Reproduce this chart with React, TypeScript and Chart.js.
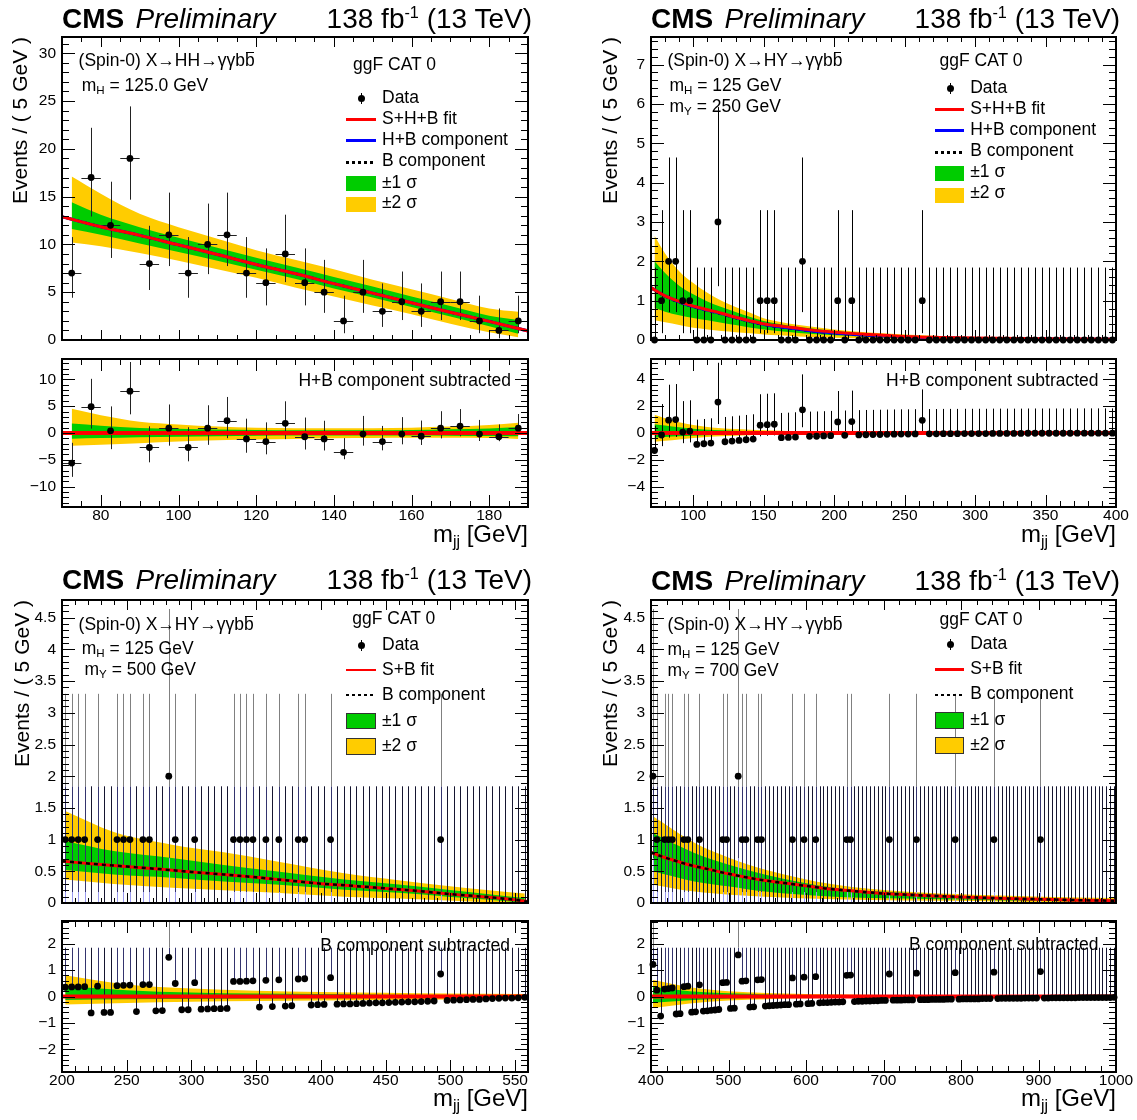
import React, { useEffect, useRef } from "react";
import { Chart, registerables } from "chart.js";

Chart.register(...registerables);

const FONT = '"Liberation Sans", Arial, Helvetica, sans-serif';
const GREEN = "#00cc00";
const YELLOW = "#ffcc00";
const RED = "#ff0000";
const BLUE = "#0000ff";
const NAVY = "#34346e";
const DARK = "#151530";
const GRAY = "#808080";
const LBLUE = "#9a9af0";

// Garwood 68% Poisson intervals for n = 0..19
const POIS_LO = [0, 0.173, 0.708, 1.367, 2.086, 2.84, 3.62, 4.419, 5.232, 6.057, 6.891, 7.734, 8.585, 9.441, 10.3, 11.17, 12.04, 12.92, 13.8, 14.68];
const POIS_HI = [1.841, 3.3, 4.638, 5.918, 7.163, 8.382, 9.584, 10.77, 11.95, 13.11, 14.27, 15.42, 16.56, 17.7, 18.83, 19.96, 21.08, 22.2, 23.32, 24.44];

// ================= Top-left: X->HH =================
const tlBins = [72.5, 77.5, 82.5, 87.5, 92.5, 97.5, 102.5, 107.5, 112.5, 117.5, 122.5, 127.5, 132.5, 137.5, 142.5, 147.5, 152.5, 157.5, 162.5, 167.5, 172.5, 177.5, 182.5, 187.5];
const tlCounts = [7, 17, 12, 19, 8, 11, 7, 10, 11, 7, 6, 9, 6, 5, 2, 5, 3, 4, 3, 4, 4, 2, 1, 2];
const tlResid = [-5.6, 4.9, 0.4, 7.8, -2.7, 0.9, -2.7, 0.9, 2.3, -1.1, -1.6, 1.8, -0.7, -1.1, -3.6, -0.2, -1.6, -0.2, -0.6, 0.9, 1.3, -0.2, -0.7, 0.9];
const tlFitX = [70, 80, 90, 100, 110, 120, 130, 140, 150, 160, 170, 180, 190];
const tlFitY = [12.9, 11.85, 10.95, 9.95, 8.95, 7.9, 6.95, 5.9, 4.9, 3.9, 2.9, 1.95, 0.95];
const tlHBFitY = [12.9, 11.85, 10.95, 9.95, 8.95, 7.9, 6.95, 5.9, 4.9, 3.9, 2.9, 1.95, 0.95];
const tlBFitY = [12.9, 11.85, 10.95, 9.95, 8.95, 7.9, 6.95, 5.9, 4.9, 3.9, 2.9, 1.95, 0.95];
const tlBandX = [72.5, 80, 90, 100, 110, 120, 130, 140, 150, 160, 170, 180, 187.5];
const tlBand2Hi = [17.1, 15.3, 13.2, 11.8, 10.6, 9.4, 8.4, 7.4, 6.3, 5.3, 4.3, 3.3, 2.95];
const tlBand1Hi = [14.4, 13.1, 11.8, 10.7, 9.65, 8.6, 7.6, 6.6, 5.6, 4.55, 3.55, 2.55, 2.1];
const tlBand1Lo = [11.6, 11.0, 10.1, 9.2, 8.3, 7.35, 6.4, 5.4, 4.45, 3.45, 2.45, 1.45, 0.65];
const tlBand2Lo = [10.2, 9.8, 9.1, 8.3, 7.4, 6.5, 5.5, 4.55, 3.6, 2.7, 1.7, 0.8, 0.3];
const tlRBandX = [72.5, 80, 90, 100, 110, 120, 130, 140, 150, 160, 170, 180, 187.5];
const tlRBand2Hi = [4.5, 3.3, 2.1, 1.6, 1.2, 1.0, 0.9, 0.9, 0.9, 1.0, 1.2, 1.5, 1.9];
const tlRBand1Hi = [1.75, 1.35, 0.95, 0.8, 0.65, 0.55, 0.5, 0.5, 0.5, 0.55, 0.7, 0.85, 1.1];
const tlRBand1Lo = [-1.05, -0.95, -0.8, -0.7, -0.6, -0.5, -0.45, -0.45, -0.45, -0.45, -0.5, -0.55, -0.6];
const tlRBand2Lo = [-2.4, -2.2, -1.9, -1.6, -1.35, -1.2, -1.1, -1.0, -0.95, -0.9, -0.9, -0.95, -1.1];
const tlRFitX = [70, 190];
const tlRFitY = [0, 0];
const tlXTicks = [80, 100, 120, 140, 160, 180];
const tlXLabels = ["80", "100", "120", "140", "160", "180"];
const tlYTicks = [0, 5, 10, 15, 20, 25, 30];
const tlYLabels = ["0", "5", "10", "15", "20", "25", "30"];
const tlRYTicks = [-10, -5, 0, 5, 10];
const tlRYLabels = ["\u221210", "\u22125", "0", "5", "10"];

// ================= Top-right: X->HY, mY=250 =================
const trBins = [
  72.5, 77.5, 82.5, 87.5, 92.5, 97.5, 102.5, 107.5, 112.5, 117.5,
  122.5, 127.5, 132.5, 137.5, 142.5, 147.5, 152.5, 157.5, 162.5, 167.5,
  172.5, 177.5, 182.5, 187.5, 192.5, 197.5, 202.5, 207.5, 212.5, 217.5,
  222.5, 227.5, 232.5, 237.5, 242.5, 247.5, 252.5, 257.5, 262.5, 267.5,
  272.5, 277.5, 282.5, 287.5, 292.5, 297.5, 302.5, 307.5, 312.5, 317.5,
  322.5, 327.5, 332.5, 337.5, 342.5, 347.5, 352.5, 357.5, 362.5, 367.5,
  372.5, 377.5, 382.5, 387.5, 392.5, 397.5,
];
const trCounts = [
  0, 1, 2, 2, 1, 1, 0, 0, 0, 3,
  0, 0, 0, 0, 0, 1, 1, 1, 0, 0,
  0, 2, 0, 0, 0, 0, 1, 0, 1, 0,
  0, 0, 0, 0, 0, 0, 0, 0, 1, 0,
  0, 0, 0, 0, 0, 0, 0, 0, 0, 0,
  0, 0, 0, 0, 0, 0, 0, 0, 0, 0,
  0, 0, 0, 0, 0, 0,
];
const trResid = [
  -1.3, -0.15, 0.95, 1.0, 0.07, 0.13, -0.85, -0.8, -0.75, 2.3,
  -0.65, -0.6, -0.55, -0.5, -0.45, 0.58, 0.62, 0.65, -0.35, -0.33,
  -0.3, 1.72, -0.25, -0.24, -0.22, -0.2, 0.82, -0.17, 0.85, -0.14,
  -0.13, -0.12, -0.11, -0.1, -0.09, -0.08, -0.08, -0.07, 0.94, -0.06,
  -0.06, -0.05, -0.05, -0.05, -0.04, -0.04, -0.04, -0.04, -0.03, -0.03,
  -0.03, -0.03, -0.03, -0.02, -0.02, -0.02, -0.02, -0.02, -0.02, -0.02,
  -0.01, -0.01, -0.01, -0.01, -0.01, -0.01,
];
const trFitX = [70, 80, 90, 100, 110, 120, 130, 140, 150, 160, 170, 180, 200, 225, 250, 275, 300, 350, 400];
const trFitY = [1.33, 1.12, 0.98, 0.86, 0.77, 0.68, 0.58, 0.49, 0.41, 0.36, 0.32, 0.27, 0.2, 0.14, 0.09, 0.065, 0.05, 0.03, 0.02];
const trHBFitY = [1.33, 1.12, 0.97, 0.85, 0.76, 0.67, 0.57, 0.48, 0.4, 0.34, 0.3, 0.25, 0.18, 0.12, 0.075, 0.055, 0.04, 0.025, 0.02];
const trBFitY = [1.32, 1.11, 0.96, 0.84, 0.75, 0.66, 0.56, 0.47, 0.39, 0.33, 0.29, 0.24, 0.17, 0.11, 0.07, 0.05, 0.035, 0.02, 0.015];
const trBandX = [72.5, 80, 90, 100, 110, 120, 130, 140, 150, 160, 175, 200, 225, 250, 275, 300, 350, 397.5];
const trBand2Hi = [2.65, 2.2, 1.75, 1.45, 1.2, 1.0, 0.84, 0.7, 0.55, 0.47, 0.38, 0.27, 0.19, 0.14, 0.1, 0.075, 0.05, 0.04];
const trBand1Hi = [2.0, 1.7, 1.38, 1.16, 0.98, 0.84, 0.71, 0.59, 0.48, 0.41, 0.33, 0.23, 0.16, 0.11, 0.08, 0.06, 0.04, 0.03];
const trBand1Lo = [0.82, 0.72, 0.63, 0.56, 0.5, 0.44, 0.38, 0.32, 0.27, 0.23, 0.18, 0.12, 0.08, 0.05, 0.03, 0.02, 0.01, 0.0];
const trBand2Lo = [0.5, 0.45, 0.38, 0.31, 0.27, 0.23, 0.2, 0.17, 0.14, 0.12, 0.09, 0.06, 0.035, 0.02, 0.01, 0.0, 0.0, 0.0];
const trRBandX = [72.5, 80, 90, 100, 110, 120, 130, 140, 150, 175, 200, 250, 300, 397.5];
const trRBand2Hi = [1.35, 1.1, 0.8, 0.6, 0.45, 0.36, 0.3, 0.25, 0.2, 0.12, 0.08, 0.05, 0.03, 0.02];
const trRBand1Hi = [0.65, 0.55, 0.42, 0.32, 0.25, 0.2, 0.16, 0.13, 0.1, 0.06, 0.04, 0.03, 0.02, 0.01];
const trRBand1Lo = [-0.35, -0.3, -0.25, -0.2, -0.16, -0.13, -0.1, -0.08, -0.07, -0.05, -0.03, -0.02, -0.01, -0.01];
const trRBand2Lo = [-0.65, -0.58, -0.48, -0.38, -0.3, -0.25, -0.2, -0.16, -0.13, -0.09, -0.06, -0.04, -0.02, -0.01];
const trRFitX = [70, 400];
const trRFitY = [0, 0];
const trXTicks = [100, 150, 200, 250, 300, 350, 400];
const trXLabels = ["100", "150", "200", "250", "300", "350", "400"];
const trYTicks = [0, 1, 2, 3, 4, 5, 6, 7];
const trYLabels = ["0", "1", "2", "3", "4", "5", "6", "7"];
const trRYTicks = [-4, -2, 0, 2, 4];
const trRYLabels = ["\u22124", "\u22122", "0", "2", "4"];

// ================= Bottom-left: X->HY, mY=500 =================
const blBins = [
  202.5, 207.5, 212.5, 217.5, 222.5, 227.5, 232.5, 237.5, 242.5, 247.5,
  252.5, 257.5, 262.5, 267.5, 272.5, 277.5, 282.5, 287.5, 292.5, 297.5,
  302.5, 307.5, 312.5, 317.5, 322.5, 327.5, 332.5, 337.5, 342.5, 347.5,
  352.5, 357.5, 362.5, 367.5, 372.5, 377.5, 382.5, 387.5, 392.5, 397.5,
  402.5, 407.5, 412.5, 417.5, 422.5, 427.5, 432.5, 437.5, 442.5, 447.5,
  452.5, 457.5, 462.5, 467.5, 472.5, 477.5, 482.5, 487.5, 492.5, 497.5,
  502.5, 507.5, 512.5, 517.5, 522.5, 527.5, 532.5, 537.5, 542.5, 547.5,
  552.5, 557.5,
];
const blCounts = [
  1, 1, 1, 1, 0, 1, 0, 0, 1, 1,
  1, 0, 1, 1, 0, 0, 2, 1, 0, 0,
  1, 0, 0, 0, 0, 0, 1, 1, 1, 1,
  0, 1, 0, 1, 0, 0, 1, 1, 0, 0,
  0, 1, 0, 0, 0, 0, 0, 0, 0, 0,
  0, 0, 0, 0, 0, 0, 0, 0, 1, 0,
  0, 0, 0, 0, 0, 0, 0, 0, 0, 0,
  0, 0,
];
const blResid = [
  0.35, 0.36, 0.36, 0.37, -0.62, 0.39, -0.6, -0.6, 0.41, 0.42,
  0.43, -0.57, 0.45, 0.45, -0.54, -0.53, 1.48, 0.49, -0.5, -0.5,
  0.52, -0.48, -0.47, -0.46, -0.46, -0.45, 0.57, 0.57, 0.58, 0.59,
  -0.4, 0.61, -0.38, 0.63, -0.36, -0.35, 0.66, 0.67, -0.32, -0.31,
  -0.3, 0.71, -0.29, -0.28, -0.28, -0.27, -0.26, -0.25, -0.24, -0.24,
  -0.23, -0.22, -0.21, -0.2, -0.2, -0.19, -0.18, -0.17, 0.85, -0.15,
  -0.14, -0.13, -0.12, -0.11, -0.11, -0.09, -0.08, -0.07, -0.06, -0.06,
  -0.05, -0.03,
];
const blFitX = [200, 225, 250, 275, 300, 325, 350, 375, 400, 425, 450, 475, 500, 525, 550, 560];
const blFitY = [0.66, 0.615, 0.575, 0.535, 0.49, 0.45, 0.405, 0.355, 0.305, 0.27, 0.23, 0.19, 0.14, 0.1, 0.05, 0.02];
const blBFitY = [0.66, 0.615, 0.575, 0.535, 0.49, 0.45, 0.405, 0.355, 0.305, 0.27, 0.23, 0.19, 0.14, 0.1, 0.05, 0.02];
const blBandX = [202.5, 240, 285, 325, 365, 418, 460, 498, 530, 557.5];
const blBand2Hi = [1.45, 1.12, 0.92, 0.8, 0.66, 0.47, 0.36, 0.27, 0.2, 0.15];
const blBand1Hi = [0.98, 0.82, 0.71, 0.6, 0.5, 0.37, 0.29, 0.21, 0.14, 0.08];
const blBand1Lo = [0.52, 0.45, 0.4, 0.34, 0.29, 0.21, 0.16, 0.1, 0.05, 0.0];
const blBand2Lo = [0.37, 0.3, 0.24, 0.2, 0.16, 0.1, 0.07, 0.04, 0.01, 0.0];
const blRBandX = [202.5, 250, 300, 350, 400, 450, 500, 557.5];
const blRBand2Hi = [0.8, 0.45, 0.3, 0.22, 0.17, 0.14, 0.11, 0.09];
const blRBand1Hi = [0.4, 0.24, 0.15, 0.11, 0.09, 0.07, 0.06, 0.05];
const blRBand1Lo = [-0.13, -0.1, -0.09, -0.08, -0.07, -0.06, -0.05, -0.05];
const blRBand2Lo = [-0.3, -0.25, -0.2, -0.17, -0.15, -0.13, -0.11, -0.1];
const blRFitX = [200, 560];
const blRFitY = [0, 0];
const blXTicks = [200, 250, 300, 350, 400, 450, 500, 550];
const blXLabels = ["200", "250", "300", "350", "400", "450", "500", "550"];
const blYTicks = [0, 0.5, 1, 1.5, 2, 2.5, 3, 3.5, 4, 4.5];
const blYLabels = ["0", "0.5", "1", "1.5", "2", "2.5", "3", "3.5", "4", "4.5"];
const blRYTicks = [-2, -1, 0, 1, 2];
const blRYLabels = ["\u22122", "\u22121", "0", "1", "2"];

// ================= Bottom-right: X->HY, mY=700 =================
const brBins = [
  402.5, 407.5, 412.5, 417.5, 422.5, 427.5, 432.5, 437.5, 442.5, 447.5,
  452.5, 457.5, 462.5, 467.5, 472.5, 477.5, 482.5, 487.5, 492.5, 497.5,
  502.5, 507.5, 512.5, 517.5, 522.5, 527.5, 532.5, 537.5, 542.5, 547.5,
  552.5, 557.5, 562.5, 567.5, 572.5, 577.5, 582.5, 587.5, 592.5, 597.5,
  602.5, 607.5, 612.5, 617.5, 622.5, 627.5, 632.5, 637.5, 642.5, 647.5,
  652.5, 657.5, 662.5, 667.5, 672.5, 677.5, 682.5, 687.5, 692.5, 697.5,
  702.5, 707.5, 712.5, 717.5, 722.5, 727.5, 732.5, 737.5, 742.5, 747.5,
  752.5, 757.5, 762.5, 767.5, 772.5, 777.5, 782.5, 787.5, 792.5, 797.5,
  802.5, 807.5, 812.5, 817.5, 822.5, 827.5, 832.5, 837.5, 842.5, 847.5,
  852.5, 857.5, 862.5, 867.5, 872.5, 877.5, 882.5, 887.5, 892.5, 897.5,
  902.5, 907.5, 912.5, 917.5, 922.5, 927.5, 932.5, 937.5, 942.5, 947.5,
  952.5, 957.5, 962.5, 967.5, 972.5, 977.5, 982.5, 987.5, 992.5, 997.5,
];
const brCounts = [
  2, 1, 0, 1, 1, 1, 0, 0, 1, 1,
  0, 0, 1, 0, 0, 0, 0, 0, 1, 1,
  0, 0, 2, 1, 1, 0, 0, 1, 1, 0,
  0, 0, 0, 0, 0, 0, 1, 0, 0, 1,
  0, 0, 1, 0, 0, 0, 0, 0, 0, 0,
  1, 1, 0, 0, 0, 0, 0, 0, 0, 0,
  0, 1, 0, 0, 0, 0, 0, 0, 1, 0,
  0, 0, 0, 0, 0, 0, 0, 0, 1, 0,
  0, 0, 0, 0, 0, 0, 0, 0, 1, 0,
  0, 0, 0, 0, 0, 0, 0, 0, 0, 0,
  1, 0, 0, 0, 0, 0, 0, 0, 0, 0,
  0, 0, 0, 0, 0, 0, 0, 0, 0, 0,
];
const brResid = [
  1.21, 0.24, -0.74, 0.28, 0.3, 0.32, -0.66, -0.65, 0.37, 0.39,
  -0.59, -0.58, 0.44, -0.55, -0.54, -0.52, -0.51, -0.49, 0.52, 0.53,
  -0.45, -0.44, 1.57, 0.58, 0.59, -0.4, -0.39, 0.63, 0.64, -0.36,
  -0.35, -0.34, -0.33, -0.32, -0.31, -0.31, 0.7, -0.29, -0.28, 0.73,
  -0.27, -0.26, 0.75, -0.24, -0.23, -0.23, -0.22, -0.21, -0.21, -0.2,
  0.8, 0.81, -0.19, -0.18, -0.18, -0.17, -0.17, -0.16, -0.16, -0.15,
  -0.15, 0.85, -0.14, -0.14, -0.14, -0.13, -0.13, -0.13, 0.88, -0.12,
  -0.12, -0.12, -0.11, -0.11, -0.11, -0.11, -0.1, -0.1, 0.9, -0.1,
  -0.09, -0.09, -0.09, -0.09, -0.09, -0.08, -0.08, -0.08, 0.92, -0.08,
  -0.07, -0.07, -0.07, -0.07, -0.07, -0.07, -0.06, -0.06, -0.06, -0.06,
  0.94, -0.06, -0.06, -0.05, -0.05, -0.05, -0.05, -0.05, -0.05, -0.05,
  -0.04, -0.04, -0.04, -0.04, -0.04, -0.04, -0.04, -0.04, -0.04, -0.03,
];
const brFitX = [400, 412.5, 425, 450, 475, 500, 525, 550, 575, 600, 625, 650, 700, 750, 800, 850, 900, 950, 1000];
const brFitY = [0.8, 0.74, 0.69, 0.6, 0.53, 0.46, 0.4, 0.35, 0.31, 0.27, 0.23, 0.2, 0.15, 0.12, 0.095, 0.075, 0.06, 0.045, 0.035];
const brBFitY = [0.8, 0.74, 0.69, 0.6, 0.53, 0.46, 0.4, 0.35, 0.31, 0.27, 0.23, 0.2, 0.15, 0.12, 0.095, 0.075, 0.06, 0.045, 0.035];
const brBandX = [402.5, 456, 501.5, 546.6, 636.8, 727, 817, 907, 997.5];
const brBand2Hi = [1.37, 0.95, 0.71, 0.53, 0.29, 0.18, 0.13, 0.1, 0.08];
const brBand1Hi = [1.1, 0.79, 0.6, 0.45, 0.24, 0.16, 0.1, 0.07, 0.04];
const brBand1Lo = [0.5, 0.34, 0.26, 0.18, 0.1, 0.07, 0.05, 0.03, 0.015];
const brBand2Lo = [0.29, 0.18, 0.13, 0.1, 0.06, 0.04, 0.03, 0.01, 0.0];
const brRBandX = [402.5, 450, 500, 550, 600, 700, 800, 997.5];
const brRBand2Hi = [0.62, 0.35, 0.2, 0.13, 0.09, 0.06, 0.04, 0.03];
const brRBand1Hi = [0.36, 0.2, 0.12, 0.08, 0.05, 0.03, 0.02, 0.015];
const brRBand1Lo = [-0.24, -0.14, -0.08, -0.05, -0.04, -0.02, -0.015, -0.01];
const brRBand2Lo = [-0.43, -0.26, -0.15, -0.1, -0.07, -0.04, -0.03, -0.02];
const brRFitX = [400, 1000];
const brRFitY = [0, 0];
const brXTicks = [400, 500, 600, 700, 800, 900, 1000];
const brXLabels = ["400", "500", "600", "700", "800", "900", "1000"];
const brYTicks = [0, 0.5, 1, 1.5, 2, 2.5, 3, 3.5, 4, 4.5];
const brYLabels = ["0", "0.5", "1", "1.5", "2", "2.5", "3", "3.5", "4", "4.5"];
const brRYTicks = [-2, -1, 0, 1, 2];
const brRYLabels = ["\u22122", "\u22121", "0", "1", "2"];

// legend labels
const legendHH = ["Data", "S+H+B fit", "H+B component", "B component", "\u00b11 \u03c3", "\u00b12 \u03c3"];
const legendHY = ["Data", "S+B fit", "B component", "\u00b11 \u03c3", "\u00b12 \u03c3"];

// ---------------- helpers ----------------
type Seg = { x: number; y0: number; y1: number; c: string };
type HSeg = { x0: number; x1: number; y: number; c: string };

function errSimple(bins: number[], counts: number[], vals: number[], color: string, xerr: number) {
  const segs: Seg[] = [];
  const hsegs: HSeg[] = [];
  bins.forEach((x, i) => {
    const n = counts[i];
    const v = vals[i];
    segs.push({ x, y0: v - (n - POIS_LO[n]), y1: v + (POIS_HI[n] - n), c: color });
    if (xerr) hsegs.push({ x0: x - xerr, x1: x + xerr, y: v, c: color });
  });
  return { segs, hsegs };
}

function errDenseMain(bins: number[], counts: number[]) {
  const segs: Seg[] = [];
  bins.forEach((x, i) => {
    const n = counts[i];
    if (n === 0) {
      segs.push({ x, y0: 0, y1: POIS_HI[0], c: DARK });
    } else {
      segs.push({ x, y0: 0, y1: POIS_LO[n], c: LBLUE });
      segs.push({ x, y0: POIS_LO[n], y1: Math.min(POIS_HI[n], POIS_HI[0]), c: NAVY });
      segs.push({ x, y0: POIS_HI[0], y1: POIS_HI[n], c: GRAY });
    }
  });
  return { segs, hsegs: [] as HSeg[] };
}

function errDenseRatio(bins: number[], counts: number[], resid: number[]) {
  const segs: Seg[] = [];
  bins.forEach((x, i) => {
    const n = counts[i];
    const r = resid[i];
    if (n === 0) {
      segs.push({ x, y0: r, y1: POIS_HI[0], c: DARK });
    } else {
      segs.push({ x, y0: r, y1: POIS_HI[0], c: NAVY });
      if (n >= 2) segs.push({ x, y0: POIS_HI[0], y1: r + (POIS_HI[n] - n), c: GRAY });
    }
  });
  return { segs, hsegs: [] as HSeg[] };
}

const MAIN_TICK = { xMaj: 10, xMin: 5, yMaj: 13, yMin: 7 };
const RATIO_TICK = { xMaj: 12, xMin: 6, yMaj: 13, yMin: 7 };

function pick<T>(arr: T[], counts: number[]) {
  return arr.filter((_, i) => counts[i] > 0);
}

const SUBS: any[] = [
  {
    frame: [62, 37, 528, 340], ratio: false, x: [70, 190], y: [0, 31.7],
    xTicks: tlXTicks, xLabels: tlXLabels, xMinor: 5, yTicks: tlYTicks, yLabels: tlYLabels, yMinor: 1,
    band: { x: tlBandX, lo2: tlBand2Lo, lo1: tlBand1Lo, hi1: tlBand1Hi, hi2: tlBand2Hi },
    lines: [
      { x: tlFitX, y: tlFitY, c: RED, w: 3 },
      { x: tlFitX, y: tlHBFitY, c: BLUE, w: 3 },
      { x: tlFitX, y: tlBFitY, c: "#000", w: 2.5, dash: [4, 4] },
    ],
    px: tlBins, py: tlCounts, err: errSimple(tlBins, tlCounts, tlCounts, "#222", 2.5), tick: MAIN_TICK,
  },
  {
    frame: [62, 359, 528, 507], ratio: true, x: [70, 190], y: [-13.8, 13.8],
    xTicks: tlXTicks, xLabels: tlXLabels, xMinor: 5, yTicks: tlRYTicks, yLabels: tlRYLabels, yMinor: 1,
    band: { x: tlRBandX, lo2: tlRBand2Lo, lo1: tlRBand1Lo, hi1: tlRBand1Hi, hi2: tlRBand2Hi },
    lines: [{ x: tlRFitX, y: tlRFitY, c: RED, w: 4 }],
    px: tlBins, py: tlResid, err: errSimple(tlBins, tlCounts, tlResid, "#222", 2.5), tick: RATIO_TICK,
  },
  {
    frame: [651, 37, 1116, 340], ratio: false, x: [70, 400], y: [0, 7.7],
    xTicks: trXTicks, xLabels: trXLabels, xMinor: 10, yTicks: trYTicks, yLabels: trYLabels, yMinor: 0.2,
    band: { x: trBandX, lo2: trBand2Lo, lo1: trBand1Lo, hi1: trBand1Hi, hi2: trBand2Hi },
    lines: [
      { x: trFitX, y: trFitY, c: RED, w: 3 },
      { x: trFitX, y: trHBFitY, c: BLUE, w: 3 },
      { x: trFitX, y: trBFitY, c: "#000", w: 2.5, dash: [4, 4] },
    ],
    px: trBins, py: trCounts, err: errSimple(trBins, trCounts, trCounts, "#000", 0), tick: MAIN_TICK,
  },
  {
    frame: [651, 359, 1116, 507], ratio: true, x: [70, 400], y: [-5.5, 5.5],
    xTicks: trXTicks, xLabels: trXLabels, xMinor: 10, yTicks: trRYTicks, yLabels: trRYLabels, yMinor: 0.4,
    band: { x: trRBandX, lo2: trRBand2Lo, lo1: trRBand1Lo, hi1: trRBand1Hi, hi2: trRBand2Hi },
    lines: [{ x: trRFitX, y: trRFitY, c: RED, w: 4 }],
    px: trBins, py: trResid, err: errSimple(trBins, trCounts, trResid, "#000", 0), tick: RATIO_TICK,
  },
  {
    frame: [62, 600, 528, 903], ratio: false, x: [200, 560], y: [0, 4.78],
    xTicks: blXTicks, xLabels: blXLabels, xMinor: 10, yTicks: blYTicks, yLabels: blYLabels, yMinor: 0.1,
    band: { x: blBandX, lo2: blBand2Lo, lo1: blBand1Lo, hi1: blBand1Hi, hi2: blBand2Hi },
    lines: [
      { x: blFitX, y: blBFitY, c: "#000", w: 2.5, dash: [4, 4] },
      { x: blFitX, y: blFitY, c: RED, w: 3 },
    ],
    px: pick(blBins, blCounts), py: pick(blCounts, blCounts), err: errDenseMain(blBins, blCounts), tick: MAIN_TICK,
  },
  {
    frame: [62, 921, 528, 1072], ratio: true, x: [200, 560], y: [-2.85, 2.85],
    xTicks: blXTicks, xLabels: blXLabels, xMinor: 10, yTicks: blRYTicks, yLabels: blRYLabels, yMinor: 0.2,
    band: { x: blRBandX, lo2: blRBand2Lo, lo1: blRBand1Lo, hi1: blRBand1Hi, hi2: blRBand2Hi },
    lines: [{ x: blRFitX, y: blRFitY, c: RED, w: 4 }],
    px: blBins, py: blResid, err: errDenseRatio(blBins, blCounts, blResid), tick: RATIO_TICK,
  },
  {
    frame: [651, 600, 1116, 903], ratio: false, x: [400, 1000], y: [0, 4.78],
    xTicks: brXTicks, xLabels: brXLabels, xMinor: 20, yTicks: brYTicks, yLabels: brYLabels, yMinor: 0.1,
    band: { x: brBandX, lo2: brBand2Lo, lo1: brBand1Lo, hi1: brBand1Hi, hi2: brBand2Hi },
    lines: [
      { x: brFitX, y: brBFitY, c: "#000", w: 2.5, dash: [4, 4] },
      { x: brFitX, y: brFitY, c: RED, w: 3 },
    ],
    px: pick(brBins, brCounts), py: pick(brCounts, brCounts), err: errDenseMain(brBins, brCounts), tick: MAIN_TICK,
  },
  {
    frame: [651, 921, 1116, 1072], ratio: true, x: [400, 1000], y: [-2.85, 2.85],
    xTicks: brXTicks, xLabels: brXLabels, xMinor: 20, yTicks: brRYTicks, yLabels: brRYLabels, yMinor: 0.2,
    band: { x: brRBandX, lo2: brRBand2Lo, lo1: brRBand1Lo, hi1: brRBand1Hi, hi2: brRBand2Hi },
    lines: [{ x: brRFitX, y: brRFitY, c: RED, w: 4 }],
    px: brBins, py: brResid, err: errDenseRatio(brBins, brCounts, brResid), tick: RATIO_TICK,
  },
];

const PAD_L = 60, PAD_T = 16, PAD_R = 20, PAD_B = 16, X_AX = 30;
function canvasBox(s: any) {
  const [l, t, r, b] = s.frame;
  return {
    left: l - PAD_L,
    top: t - PAD_T,
    width: r - l + PAD_L + PAD_R,
    height: b - t + PAD_T + (s.ratio ? X_AX : PAD_B),
  };
}

const cfgMap = new WeakMap<HTMLCanvasElement, any>();

function minorVals(min: number, max: number, step: number) {
  const out: number[] = [];
  const k0 = Math.ceil(min / step - 1e-9);
  for (let k = k0; k * step <= max + 1e-9; k++) out.push(k * step);
  return out;
}

function drawErr(chart: any, s: any) {
  const { ctx, chartArea: a, scales } = chart;
  const xs = scales.x, ys = scales.y;
  ctx.save();
  ctx.beginPath();
  ctx.rect(a.left, a.top, a.right - a.left, a.bottom - a.top);
  ctx.clip();
  ctx.lineWidth = 1;
  for (const g of s.err.segs) {
    const px = Math.round(xs.getPixelForValue(g.x)) + 0.5;
    ctx.strokeStyle = g.c;
    ctx.beginPath();
    ctx.moveTo(px, ys.getPixelForValue(g.y0));
    ctx.lineTo(px, ys.getPixelForValue(g.y1));
    ctx.stroke();
  }
  for (const h of s.err.hsegs) {
    const py = Math.round(ys.getPixelForValue(h.y)) + 0.5;
    ctx.strokeStyle = h.c;
    ctx.beginPath();
    ctx.moveTo(xs.getPixelForValue(h.x0), py);
    ctx.lineTo(xs.getPixelForValue(h.x1), py);
    ctx.stroke();
  }
  ctx.restore();
}

function drawFrame(chart: any, s: any) {
  const { ctx, chartArea: a, scales } = chart;
  const xs = scales.x, ys = scales.y;
  const T = s.tick;
  ctx.save();
  ctx.strokeStyle = "#000";
  ctx.lineWidth = 1;
  ctx.beginPath();
  const xt = (v: number, L: number) => {
    const p = Math.round(xs.getPixelForValue(v)) + 0.5;
    ctx.moveTo(p, a.bottom); ctx.lineTo(p, a.bottom - L);
    ctx.moveTo(p, a.top); ctx.lineTo(p, a.top + L);
  };
  const yt = (v: number, L: number) => {
    const p = Math.round(ys.getPixelForValue(v)) + 0.5;
    ctx.moveTo(a.left, p); ctx.lineTo(a.left + L, p);
    ctx.moveTo(a.right, p); ctx.lineTo(a.right - L, p);
  };
  minorVals(s.x[0], s.x[1], s.xMinor).forEach((v) => xt(v, T.xMin));
  s.xTicks.forEach((v: number) => xt(v, T.xMaj));
  minorVals(s.y[0], s.y[1], s.yMinor).forEach((v) => yt(v, T.yMin));
  s.yTicks.forEach((v: number) => yt(v, T.yMaj));
  ctx.stroke();
  ctx.lineWidth = 2;
  ctx.strokeRect(a.left, a.top, a.right - a.left, a.bottom - a.top);
  ctx.restore();
}

const rootPlugin = {
  id: "rootDecor",
  afterDatasetDraw(chart: any, args: any) {
    const ds = chart.data.datasets[args.index];
    if (!ds || ds.label !== "__err") return;
    const s = cfgMap.get(chart.canvas);
    if (s) drawErr(chart, s);
  },
  afterDraw(chart: any) {
    const s = cfgMap.get(chart.canvas);
    if (s) drawFrame(chart, s);
  },
};

function xy(xs: number[], ys: number[]) {
  return xs.map((x, i) => ({ x, y: ys[i] }));
}

function bandDs(label: string, xs: number[], ys: number[], order: number, fill: any, color?: string) {
  return {
    label,
    data: xy(xs, ys),
    borderWidth: 0,
    borderColor: "rgba(0,0,0,0)",
    backgroundColor: color || "rgba(0,0,0,0)",
    pointRadius: 0,
    fill,
    order,
    cubicInterpolationMode: "monotone",
  };
}

function createChart(canvas: HTMLCanvasElement, s: any) {
  cfgMap.set(canvas, s);
  const datasets: any[] = [];
  datasets.push({
    label: "pts", data: xy(s.px, s.py), showLine: false, pointRadius: 3.4, pointHoverRadius: 3.4,
    pointBackgroundColor: "#000", pointBorderColor: "#000", pointBorderWidth: 0, order: 0, clip: false,
  });
  s.lines.forEach((l: any, k: number) =>
    datasets.push({
      label: "line" + k, data: xy(l.x, l.y), borderColor: l.c, borderWidth: l.w, borderDash: l.dash || [],
      pointRadius: 0, fill: false, order: 1 + k, cubicInterpolationMode: "monotone",
    })
  );
  datasets.push({ label: "__err", data: [], order: 8, pointRadius: 0, borderColor: "rgba(0,0,0,0)", borderWidth: 0 });
  const b = s.band;
  const i1 = datasets.length;
  datasets.push(bandDs("g1lo", b.x, b.lo1, 9, false));
  datasets.push(bandDs("g1hi", b.x, b.hi1, 9, i1, GREEN));
  const i2 = datasets.length;
  datasets.push(bandDs("y2lo", b.x, b.lo2, 10, false));
  datasets.push(bandDs("y2hi", b.x, b.hi2, 10, i2, YELLOW));

  const tickFont = { family: FONT, size: 15.5, lineHeight: 1 };
  return new Chart(canvas, {
    type: "line",
    data: { datasets },
    plugins: [rootPlugin],
    options: {
      responsive: false,
      maintainAspectRatio: false,
      animation: false,
      devicePixelRatio: 1,
      events: [],
      layout: { padding: { left: 0, top: PAD_T, right: PAD_R, bottom: s.ratio ? 0 : PAD_B } },
      plugins: {
        legend: { display: false },
        tooltip: { enabled: false },
        colors: { enabled: false },
      },
      scales: {
        x: {
          type: "linear",
          min: s.x[0],
          max: s.x[1],
          display: s.ratio,
          grid: { display: false, drawTicks: false, tickLength: 0 },
          border: { display: false },
          ticks: {
            autoSkip: false, maxRotation: 0, minRotation: 0, padding: 1, color: "#000", font: tickFont,
            callback: (_v: any, i: number) => s.xLabels[i],
          },
          afterBuildTicks: (ax: any) => { ax.ticks = s.xTicks.map((v: number) => ({ value: v })); },
          afterFit: (ax: any) => { ax.height = s.ratio ? X_AX : 0; },
        },
        y: {
          type: "linear",
          position: "left",
          min: s.y[0],
          max: s.y[1],
          grid: { display: false, drawTicks: false, tickLength: 0 },
          border: { display: false },
          ticks: {
            autoSkip: false, padding: 6, color: "#000", font: tickFont,
            callback: (_v: any, i: number) => s.yLabels[i],
          },
          afterBuildTicks: (ax: any) => { ax.ticks = s.yTicks.map((v: number) => ({ value: v })); },
          afterFit: (ax: any) => { ax.width = PAD_L; },
        },
      },
    } as any,
  });
}

// ---------------- overlay text components ----------------
const TS = 17.5;

function Txt({ x, b, size = TS, right = false, bold = false, italic = false, children }: any) {
  const st: any = {
    position: "absolute",
    top: b - 0.8465 * size,
    fontSize: size,
    lineHeight: size + "px",
    height: size,
    whiteSpace: "nowrap",
    fontWeight: bold ? "bold" : "normal",
    fontStyle: italic ? "italic" : "normal",
    color: "#000",
  };
  if (right) {
    st.left = x - 700;
    st.width = 700;
    st.textAlign = "right";
  } else {
    st.left = x;
  }
  return <div style={st}>{children}</div>;
}

const Sub = ({ children, dy = 3 }: any) => (
  <span style={{ fontSize: "0.66em", position: "relative", top: dy }}>{children}</span>
);
const Sup = ({ children }: any) => (
  <span style={{ fontSize: "0.58em", position: "relative", top: -10 }}>{children}</span>
);
const Ov = ({ children }: any) => (
  <span style={{ position: "relative", display: "inline-block" }}>
    {children}
    <span style={{ position: "absolute", left: 1, right: 1, top: 0, height: 1.3, background: "#000" }} />
  </span>
);

function YTitle({ bx, endY }: any) {
  const fs = 21;
  return (
    <div
      style={{
        position: "absolute", left: bx - 0.8465 * fs, top: endY + 300, width: 300, height: fs,
        lineHeight: fs + "px", fontSize: fs, textAlign: "right", whiteSpace: "nowrap",
        transform: "rotate(-90deg)", transformOrigin: "0 0",
      }}
    >
      Events / ( 5 GeV )
    </div>
  );
}

function XTitle({ right, b }: any) {
  return (
    <Txt x={right} b={b} size={24} right>
      m<Sub dy={5}>jj</Sub> [GeV]
    </Txt>
  );
}

function Title({ l, r, b }: any) {
  return (
    <>
      <Txt x={l} b={b} size={28} bold>CMS</Txt>
      <Txt x={l + 73.5} b={b} size={28} italic>Preliminary</Txt>
      <Txt x={r + 4} b={b} size={28} right>
        138 fb<Sup>-1</Sup> (13 TeV)
      </Txt>
    </>
  );
}

const LineSym = ({ x0, x1, y, color, w = 2.5, dotted = false }: any) => (
  <div
    style={{
      position: "absolute", left: x0, top: y - w / 2, width: x1 - x0, height: w,
      background: dotted ? `repeating-linear-gradient(to right, ${color} 0px, ${color} 3px, transparent 3px, transparent 6px)` : color,
    }}
  />
);
const BoxSym = ({ x0, x1, y0, y1, color, border = false }: any) => (
  <div
    style={{
      position: "absolute", left: x0, top: y0, width: x1 - x0, height: y1 - y0, background: color,
      boxSizing: "border-box", border: border ? "1px solid #333" : "none",
    }}
  />
);
const DataSym = ({ x, y }: any) => (
  <>
    <div style={{ position: "absolute", left: x - 0.5, top: y - 5.5, width: 1, height: 11, background: "#000" }} />
    <div style={{ position: "absolute", left: x - 3.5, top: y - 3.5, width: 7, height: 7, borderRadius: "50%", background: "#000" }} />
  </>
);

export default function App() {
  const refs = useRef<(HTMLCanvasElement | null)[]>([]);
  useEffect(() => {
    const charts = SUBS.map((s, i) => createChart(refs.current[i] as HTMLCanvasElement, s));
    return () => {
      charts.forEach((c) => c.destroy());
    };
  }, []);

  return (
    <div
      style={{
        position: "absolute", left: 0, top: 0, width: 1137, height: 1120, background: "#fff",
        fontFamily: FONT, overflow: "hidden", color: "#000",
      }}
    >
      {SUBS.map((s, i) => {
        const bx = canvasBox(s);
        return (
          <canvas
            key={i}
            ref={(el) => {
              refs.current[i] = el;
            }}
            width={bx.width}
            height={bx.height}
            style={{ position: "absolute", left: bx.left, top: bx.top, width: bx.width, height: bx.height }}
          />
        );
      })}

      {/* ===== Top-left ===== */}
      <Title l={62} r={528} b={28.3} />
      <YTitle bx={27} endY={37} />
      <Txt x={78.6} b={66.7}>(Spin-0) X→HH→γγb<Ov>b</Ov></Txt>
      <Txt x={81.7} b={92}>m<Sub>H</Sub> = 125.0 GeV</Txt>
      <Txt x={353} b={70.7}>ggF CAT 0</Txt>
      <DataSym x={361} y={98.7} />
      <LineSym x0={346} x1={376} y={119.3} color={RED} />
      <LineSym x0={346} x1={376} y={140.7} color={BLUE} />
      <LineSym x0={346} x1={376} y={162.3} color="#000" dotted />
      <BoxSym x0={346} x1={376} y0={175.7} y1={190.7} color={GREEN} />
      <BoxSym x0={346} x1={376} y0={196.7} y1={211.7} color={YELLOW} />
      {legendHH.map((t, k) => (
        <Txt key={k} x={382} b={[104.3, 125, 146, 167.3, 188.5, 209][k]}>{t}</Txt>
      ))}
      <Txt x={511} b={387.3} right>H+B component subtracted</Txt>
      <XTitle right={528} b={542} />

      {/* ===== Top-right ===== */}
      <Title l={651} r={1116} b={28.3} />
      <YTitle bx={616.5} endY={37} />
      <Txt x={667.4} b={66.7}>(Spin-0) X→HY→γγb<Ov>b</Ov></Txt>
      <Txt x={669.5} b={91.5}>m<Sub>H</Sub> = 125 GeV</Txt>
      <Txt x={669.5} b={112.5}>m<Sub>Y</Sub> = 250 GeV</Txt>
      <Txt x={939.5} b={66.7}>ggF CAT 0</Txt>
      <DataSym x={950} y={88.3} />
      <LineSym x0={935} x1={964} y={109.3} color={RED} />
      <LineSym x0={935} x1={964} y={130.7} color={BLUE} />
      <LineSym x0={935} x1={964} y={152.3} color="#000" dotted />
      <BoxSym x0={935} x1={964} y0={166} y1={181} color={GREEN} />
      <BoxSym x0={935} x1={964} y0={187.7} y1={202.7} color={YELLOW} />
      {legendHH.map((t, k) => (
        <Txt key={k} x={970.2} b={[94.3, 115, 136, 157.3, 178.3, 199.3][k]}>{t}</Txt>
      ))}
      <Txt x={1098.6} b={387.3} right>H+B component subtracted</Txt>
      <XTitle right={1116} b={542} />

      {/* ===== Bottom-left ===== */}
      <Title l={62} r={528} b={590} />
      <YTitle bx={28.5} endY={600} />
      <Txt x={78.6} b={631}>(Spin-0) X→HY→γγb<Ov>b</Ov></Txt>
      <Txt x={81.7} b={655}>m<Sub>H</Sub> = 125 GeV</Txt>
      <Txt x={84.5} b={675.5}>m<Sub>Y</Sub> = 500 GeV</Txt>
      <Txt x={352.3} b={625}>ggF CAT 0</Txt>
      <DataSym x={361} y={645} />
      <LineSym x0={346} x1={376} y={670} color={RED} />
      <LineSym x0={346} x1={376} y={695} color="#000" dotted />
      <BoxSym x0={346} x1={376} y0={712.7} y1={729.3} color={GREEN} border />
      <BoxSym x0={346} x1={376} y0={737.7} y1={755} color={YELLOW} border />
      {legendHY.map((t, k) => (
        <Txt key={k} x={382} b={[651, 676, 701, 726.7, 751.7][k]}>{t}</Txt>
      ))}
      <Txt x={510} b={951.7} right>B component subtracted</Txt>
      <XTitle right={528} b={1106} />

      {/* ===== Bottom-right ===== */}
      <Title l={651} r={1116} b={591} />
      <YTitle bx={616.5} endY={600} />
      <Txt x={667.4} b={630.7}>(Spin-0) X→HY→γγb<Ov>b</Ov></Txt>
      <Txt x={667.4} b={656}>m<Sub>H</Sub> = 125 GeV</Txt>
      <Txt x={667.4} b={676.7}>m<Sub>Y</Sub> = 700 GeV</Txt>
      <Txt x={939.5} b={626}>ggF CAT 0</Txt>
      <DataSym x={950} y={644.3} />
      <LineSym x0={935} x1={964} y={669.3} color={RED} />
      <LineSym x0={935} x1={964} y={695} color="#000" dotted />
      <BoxSym x0={935} x1={964} y0={711.7} y1={729.3} color={GREEN} border />
      <BoxSym x0={935} x1={964} y0={736.7} y1={754} color={YELLOW} border />
      {legendHY.map((t, k) => (
        <Txt key={k} x={970.2} b={[650, 675, 700, 725.7, 750.7][k]}>{t}</Txt>
      ))}
      <Txt x={1098.6} b={951} right>B component subtracted</Txt>
      <XTitle right={1116} b={1106} />
    </div>
  );
}
